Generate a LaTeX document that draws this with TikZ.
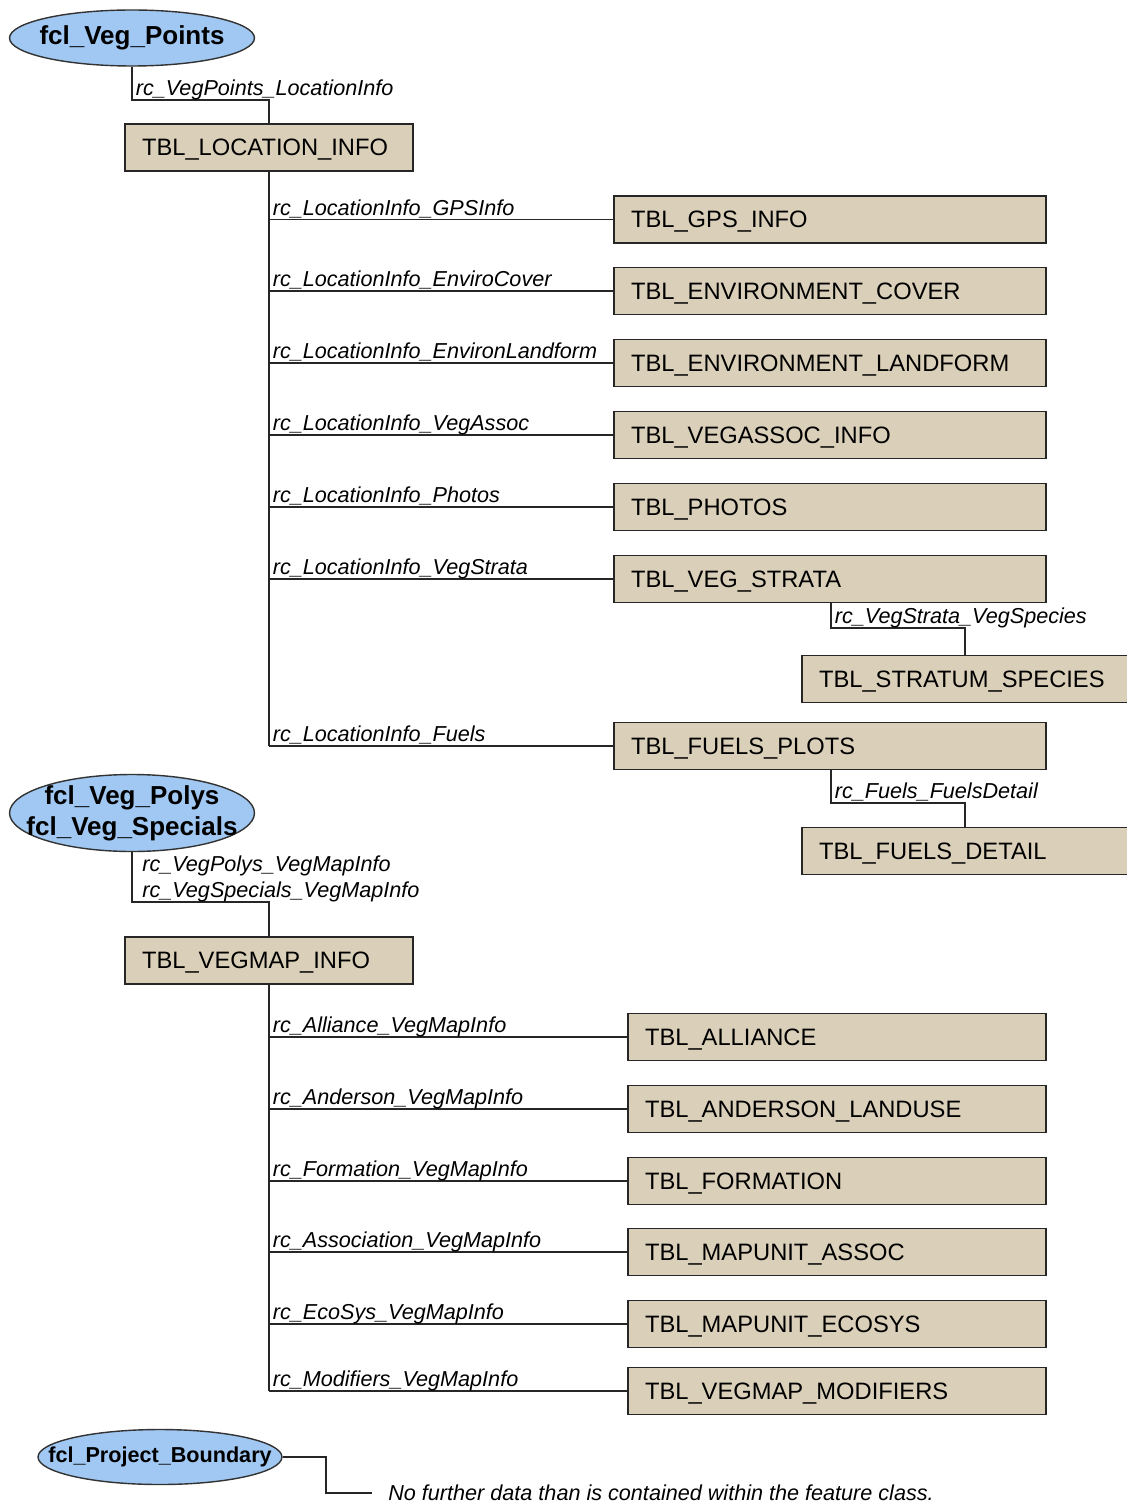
\documentclass[tikz,border=0pt]{standalone}
\usepackage{fontspec}
\setmainfont{Liberation Sans}
\usetikzlibrary{shapes.geometric}
\definecolor{fclblue}{RGB}{160,200,242}
\definecolor{tbltan}{RGB}{218,207,184}
\tikzset{
	fcl/.style={ellipse, draw=black!80, line width=0.8pt, fill=fclblue, inner xsep=-1cm, inner ysep=-0.1cm, align=center, font=\bfseries\fontsize{14.8}{17.6}\selectfont},
	tbl/.style={rectangle, draw=black!85, line width=0.8pt, fill=tbltan, minimum height=0.94cm, inner xsep=0.34cm, inner ysep=0pt, text width=#1, text depth=0pt, align=left, font=\fontsize{13.5}{16}\selectfont},
	rel/.style={anchor=base west, inner sep=0pt, xshift=2pt, yshift=2.5pt, font=\itshape\fontsize{12.3}{14.6}\selectfont},
	link/.style={line width=0.8pt, black!85}
}

\begin{document}
\begin{tikzpicture}[x=0.02cm, y=-0.02cm]
				%defs
				\useasboundingbox (0,0) rectangle (1126,1503);
				\coordinate (k1) at (132,100);
				\coordinate (k2) at (831,628);
				\coordinate (k3) at (831,803);
				\coordinate (k4) at (132,902);
				\coordinate (k5) at (326,1457);
				%feature classes
				\node[fcl, minimum width=4.9cm, minimum height=1.12cm] (vp) at (132,38) {fcl\_Veg\_Points};
				\node[fcl, minimum width=4.9cm, minimum height=1.54cm] (vps) at (132,813) {fcl\_Veg\_Polys\\fcl\_Veg\_Specials};
				\node[fcl, minimum width=4.88cm, minimum height=1.1cm, font=\bfseries\fontsize{12.3}{14}\selectfont] (pb) at (160,1457) {fcl\_Project\_Boundary};
				%tables
				\node[tbl=5.08cm] (locinfo) at (269,147.5) {TBL\_LOCATION\_INFO};
				\node[tbl=7.96cm] (gps) at (830,219.5) {TBL\_GPS\_INFO};
				\node[tbl=7.96cm] (envcov) at (830,291) {TBL\_ENVIRONMENT\_COVER};
				\node[tbl=7.96cm] (envland) at (830,363) {TBL\_ENVIRONMENT\_LANDFORM};
				\node[tbl=7.96cm] (vegassoc) at (830,435) {TBL\_VEGASSOC\_INFO};
				\node[tbl=7.96cm] (photos) at (830,507) {TBL\_PHOTOS};
				\node[tbl=7.96cm] (strata) at (830,579) {TBL\_VEG\_STRATA};
				\node[tbl=5.84cm] (stratum) at (965,679) {TBL\_STRATUM\_SPECIES};
				\node[tbl=7.96cm] (fuels) at (830,746) {TBL\_FUELS\_PLOTS};
				\node[tbl=5.84cm] (fdetail) at (965,851) {TBL\_FUELS\_DETAIL};
				\node[tbl=5.08cm] (vegmap) at (269,960.5) {TBL\_VEGMAP\_INFO};
				\node[tbl=7.68cm] (alliance) at (837,1037) {TBL\_ALLIANCE};
				\node[tbl=7.68cm] (anderson) at (837,1109) {TBL\_ANDERSON\_LANDUSE};
				\node[tbl=7.68cm] (formation) at (837,1181) {TBL\_FORMATION};
				\node[tbl=7.68cm] (mapassoc) at (837,1252) {TBL\_MAPUNIT\_ASSOC};
				\node[tbl=7.68cm] (ecosys) at (837,1324) {TBL\_MAPUNIT\_ECOSYS};
				\node[tbl=7.68cm] (modifiers) at (837,1391) {TBL\_VEGMAP\_MODIFIERS};
				\node[anchor=west, inner xsep=0.32cm, font=\itshape\fontsize{12.3}{14.6}\selectfont] (note) at (372,1493) {No further data than is contained within the feature class.};
				%lines
				\draw[link] (vp.south) -- (k1) -| (locinfo.north);
				\draw[link] (locinfo.south) -- (locinfo.south |- fuels.west);
				\draw[link] (locinfo.south |- gps.west) -- (gps.west);
				\draw[link] (locinfo.south |- envcov.west) -- (envcov.west);
				\draw[link] (locinfo.south |- envland.west) -- (envland.west);
				\draw[link] (locinfo.south |- vegassoc.west) -- (vegassoc.west);
				\draw[link] (locinfo.south |- photos.west) -- (photos.west);
				\draw[link] (locinfo.south |- strata.west) -- (strata.west);
				\draw[link] (locinfo.south |- fuels.west) -- (fuels.west);
				\draw[link] (strata.south -| k2) -- (k2) -| (stratum.north);
				\draw[link] (fuels.south -| k3) -- (k3) -| (fdetail.north);
				\draw[link] (vps.south) -- (k4) -| (vegmap.north);
				\draw[link] (vegmap.south) -- (vegmap.south |- modifiers.west);
				\draw[link] (vegmap.south |- alliance.west) -- (alliance.west);
				\draw[link] (vegmap.south |- anderson.west) -- (anderson.west);
				\draw[link] (vegmap.south |- formation.west) -- (formation.west);
				\draw[link] (vegmap.south |- mapassoc.west) -- (mapassoc.west);
				\draw[link] (vegmap.south |- ecosys.west) -- (ecosys.west);
				\draw[link] (vegmap.south |- modifiers.west) -- (modifiers.west);
				\draw[link] (pb.east) -- (k5) |- (note.west);
				%Labels
				\node[rel] (rvp) at (k1) {rc\_VegPoints\_LocationInfo};
				\node[rel] (rgps) at (locinfo.south |- gps.west) {rc\_LocationInfo\_GPSInfo};
				\node[rel] (rcov) at (locinfo.south |- envcov.west) {rc\_LocationInfo\_EnviroCover};
				\node[rel] (rland) at (locinfo.south |- envland.west) {rc\_LocationInfo\_EnvironLandform};
				\node[rel] (rassoc) at (locinfo.south |- vegassoc.west) {rc\_LocationInfo\_VegAssoc};
				\node[rel] (rphotos) at (locinfo.south |- photos.west) {rc\_LocationInfo\_Photos};
				\node[rel] (rstrata) at (locinfo.south |- strata.west) {rc\_LocationInfo\_VegStrata};
				\node[rel] (rspecies) at (k2) {rc\_VegStrata\_VegSpecies};
				\node[rel] (rfuels) at (locinfo.south |- fuels.west) {rc\_LocationInfo\_Fuels};
				\node[rel] (rdetail) at (k3) {rc\_Fuels\_FuelsDetail};
				\node[anchor=south west, inner sep=0pt, xshift=0.2cm, align=left, font=\itshape\fontsize{12.3}{14.6}\selectfont] (rvps) at (k4) {rc\_VegPolys\_VegMapInfo\\rc\_VegSpecials\_VegMapInfo};
				\node[rel] (ralliance) at (vegmap.south |- alliance.west) {rc\_Alliance\_VegMapInfo};
				\node[rel] (randerson) at (vegmap.south |- anderson.west) {rc\_Anderson\_VegMapInfo};
				\node[rel] (rformation) at (vegmap.south |- formation.west) {rc\_Formation\_VegMapInfo};
				\node[rel] (rmapassoc) at (vegmap.south |- mapassoc.west) {rc\_Association\_VegMapInfo};
				\node[rel] (recosys) at (vegmap.south |- ecosys.west) {rc\_EcoSys\_VegMapInfo};
				\node[rel] (rmodifiers) at (vegmap.south |- modifiers.west) {rc\_Modifiers\_VegMapInfo};
			\end{tikzpicture}
\end{document}
